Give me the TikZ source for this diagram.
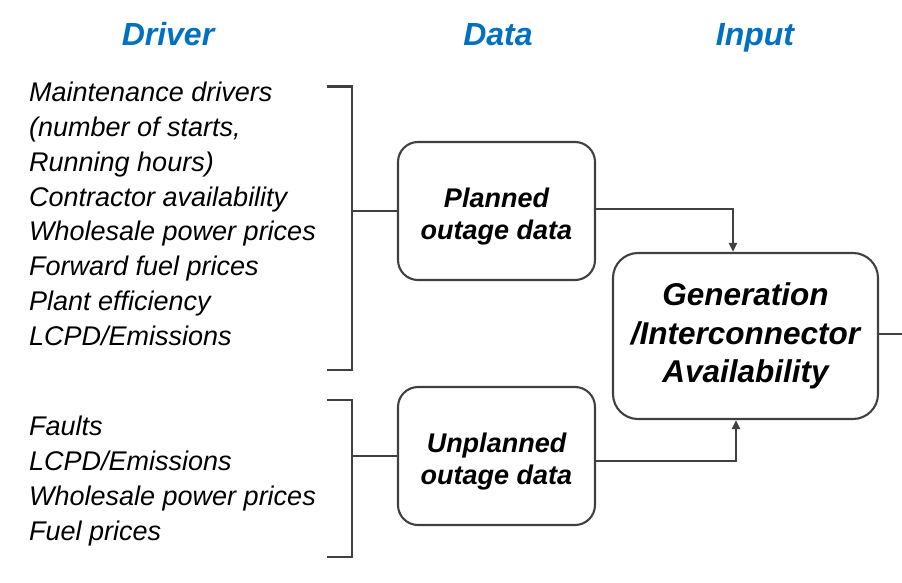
\documentclass[tikz,border=0pt]{standalone}
\usepackage{fontspec}
\setmainfont{Liberation Sans}
\usetikzlibrary{arrows.meta}
\definecolor{hdrblue}{RGB}{0,112,192}
\definecolor{linegray}{RGB}{64,64,64}
\newcommand{\dropline}{\rule{0pt}{30.5pt}}
\tikzset{
  hdr/.style={font=\fontsize{32}{36}\selectfont\bfseries\itshape, text=hdrblue, inner sep=0pt, anchor=base},
  drv/.style={font=\fontsize{27}{30}\selectfont\itshape, anchor=base west, inner sep=0pt},
  databox/.style={draw=linegray, line width=2.1pt, rounded corners=20pt, minimum width=197pt, minimum height=138pt,
    align=center, font=\fontsize{27}{32.5}\selectfont\bfseries\itshape, inner sep=0pt},
  bigbox/.style={draw=linegray, line width=2.1pt, rounded corners=25pt, minimum width=265pt, minimum height=166pt,
    align=center, font=\fontsize{31.5}{38.5}\selectfont\bfseries\itshape, inner sep=0pt},
  conn/.style={draw=linegray, line width=2.1pt},
  arr/.style={conn, -{Triangle[length=9pt,width=8pt]}}
}
\begin{document}
\begin{tikzpicture}[x=1pt,y=-1pt]
\useasboundingbox (0,0) rectangle (902,583);
% headers
\node[hdr] (hDriver) at (168,45.5) {Driver};
\node[hdr] (hData) at (498,45.5) {Data};
\node[hdr] (hInput) at (755,45.5) {Input};
% driver texts
\node[drv] (d1) at (29,101.7) {Maintenance drivers};
\node[drv] (d2) at (29,136.5) {(number of starts,};
\node[drv] (d3) at (29,171.3) {Running hours)};
\node[drv] (d4) at (29,206.1) {Contractor availability};
\node[drv] (d5) at (29,240.9) {Wholesale power prices};
\node[drv] (d6) at (29,275.7) {Forward fuel prices};
\node[drv] (d7) at (29,310.5) {Plant efficiency};
\node[drv] (d8) at (29,345.3) {LCPD/Emissions};
\node[drv] (u1) at (29,435) {Faults};
\node[drv] (u2) at (29,470) {LCPD/Emissions};
\node[drv] (u3) at (29,505) {Wholesale power prices};
\node[drv] (u4) at (29,540) {Fuel prices};
% boxes
\node[databox] (planned) at (496.5,211) {\dropline Planned\\outage data};
\node[databox] (unplanned) at (496.5,456) {\dropline Unplanned\\outage data};
\node[bigbox] (gen) at (745.5,336) {Generation\\/Interconnector\\Availability};
% brackets
\coordinate (b1t) at (327,86.5);
\coordinate (b1b) at (327,370);
\coordinate (b1m) at (352,211);
\coordinate (b2t) at (327,400);
\coordinate (b2b) at (327,557);
\coordinate (b2m) at (352,456);
\coordinate (out) at (902,334);
\draw[conn] (b1t) -- (352,86.5) -- (352,370) -- (b1b);
\draw[conn] (b1m) -- (planned.west);
\draw[conn] (b2t) -- (352,400) -- (352,557) -- (b2b);
\draw[conn] (b2m) -- (unplanned.west);
% arrows
\draw[arr] ([yshift=2pt]planned.east) -| ([xshift=-12.5pt]gen.north);
\draw[arr] ([yshift=-5pt]unplanned.east) -| ([xshift=-9.5pt]gen.south);
\draw[conn] ([yshift=2pt]gen.east) -- (out);
\end{tikzpicture}
\end{document}
